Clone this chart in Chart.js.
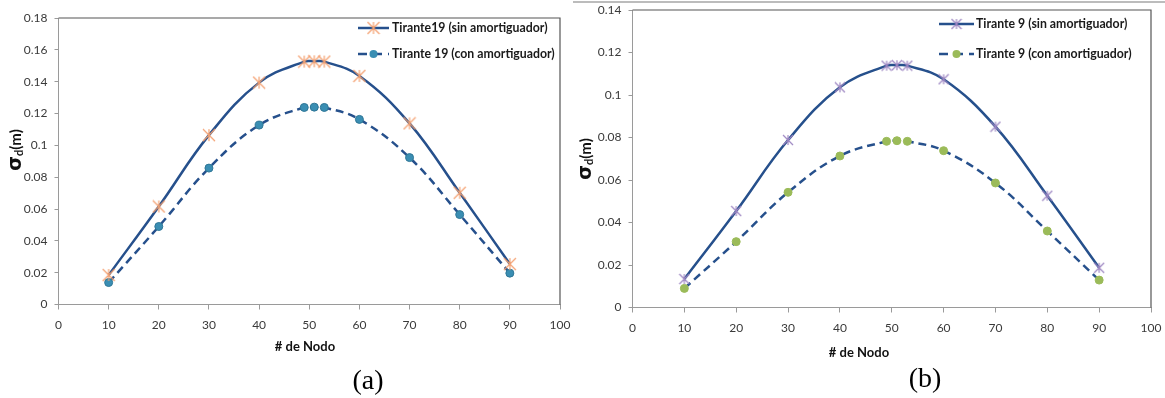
<!DOCTYPE html>
<html>
<head>
<meta charset="utf-8">
<script src="https://cdn.jsdelivr.net/npm/chart.js@4.4.0/dist/chart.umd.min.js"></script>
<style>
  body { margin: 0; background: #fff; width: 1165px; height: 398px; overflow: hidden; position: relative; }
  .box { position: absolute; top: 0; height: 398px; }
  #boxA { left: 0; width: 572px; }
  #boxB { left: 572px; width: 593px; }
  .cap { position: absolute; font-family: "Liberation Serif"; font-size: 28px; color: #000; transform: translate(-50%, -50%); }
</style>
</head>
<body>
<div class="box" id="boxA"><canvas id="chartA"></canvas></div>
<div class="box" id="boxB"><canvas id="chartB"></canvas></div>
<div class="cap" style="left:368px;top:380px">(a)</div>
<div class="cap" style="left:925px;top:378px">(b)</div>
<script>
// node numbers along the cable and displacement per node
var nodos = [10, 20, 30, 40, 49, 51, 53, 60, 70, 80, 90];
var tirante19Sin = [0.0185, 0.0616, 0.1064, 0.1394, 0.1526, 0.1528, 0.1526, 0.1436, 0.1138, 0.0702, 0.0254];
var tirante19Con = [0.0138, 0.049, 0.0857, 0.1127, 0.1238, 0.124, 0.1238, 0.1163, 0.0923, 0.0565, 0.0197];
var tirante9Sin = [0.0134, 0.0454, 0.0788, 0.1036, 0.1138, 0.114, 0.1138, 0.1074, 0.0851, 0.0526, 0.0187];
var tirante9Con = [0.009, 0.031, 0.0542, 0.0713, 0.0782, 0.0785, 0.0782, 0.0738, 0.0586, 0.036, 0.0129];

var xTicks = [0, 10, 20, 30, 40, 50, 60, 70, 80, 90, 100];
var yTicksA = [0, 0.02, 0.04, 0.06, 0.08, 0.1, 0.12, 0.14, 0.16, 0.18];
var yTicksB = [0, 0.02, 0.04, 0.06, 0.08, 0.1, 0.12, 0.14];

var legendA = ['Tirante19 (sin amortiguador)', 'Tirante 19 (con amortiguador)'];
var legendB = ['Tirante 9 (sin amortiguador)', 'Tirante 9 (con amortiguador)'];

var lineColor = '#26508C';
var tickFont = { family: 'Lato', size: 12 };
var tickColor = '#3a3a3a';
var axisColor = '#9a9a9a';

// excel style star marker: an X with a vertical bar
function asterisk(color, size) {
  var c = document.createElement('canvas');
  c.width = size + 2;
  c.height = size + 2;
  var g = c.getContext('2d');
  g.strokeStyle = color;
  g.lineWidth = 1.2;
  var a = 1, b = size + 1, m = (size + 2) / 2;
  g.beginPath();
  g.moveTo(a, a); g.lineTo(b, b);
  g.moveTo(b, a); g.lineTo(a, b);
  g.moveTo(m, a); g.lineTo(m, b);
  g.stroke();
  return c;
}

function pts(xs, ys) {
  return xs.map(function (x, i) { return { x: x, y: ys[i] }; });
}

// titles, legend and plot frame drawn on top of the chart
function decor(cfg) {
  return {
    id: 'decor',
    afterDraw: function (chart) {
      var g = chart.ctx;
      var area = chart.chartArea;
      g.save();

      // top and right edges of the plot area
      g.strokeStyle = '#555';
      g.lineWidth = 1.2;
      g.beginPath();
      g.moveTo(area.left, area.top);
      g.lineTo(area.right, area.top);
      g.lineTo(area.right, area.bottom);
      g.stroke();

      if (cfg.frameTop) {
        g.strokeStyle = '#a6a6a6';
        g.lineWidth = 1.5;
        g.beginPath();
        g.moveTo(1, 2);
        g.lineTo(chart.width, 2);
        g.stroke();
      }

      // x title
      g.fillStyle = '#111';
      g.font = 'bold 13px Lato';
      g.textAlign = 'center';
      g.textBaseline = 'middle';
      g.fillText('# de Nodo', cfg.xTitle[0], cfg.xTitle[1]);

      // y title with subscript
      g.save();
      g.translate(cfg.yTitle[0], cfg.yTitle[1]);
      g.rotate(-Math.PI / 2);
      g.textAlign = 'left';
      g.textBaseline = 'alphabetic';
      g.font = 'bold 19px "DejaVu Sans"';
      var w1 = g.measureText('σ').width;
      g.font = 'bold 11px Lato';
      var w2 = g.measureText('d').width;
      g.font = 'bold 15px Lato';
      var w3 = g.measureText('(m)').width;
      var x = -(w1 + w2 + w3) / 2;
      g.font = 'bold 19px "DejaVu Sans"';
      g.fillText('σ', x, 6);
      g.font = 'bold 11px Lato';
      g.fillText('d', x + w1, 8);
      g.font = 'bold 15px Lato';
      g.fillText('(m)', x + w1 + w2, 6);
      g.restore();

      // legend
      var L = cfg.legend;
      var mid = (L.x0 + L.x1) / 2;
      g.strokeStyle = lineColor;
      g.lineWidth = 2.5;
      g.beginPath();
      g.moveTo(L.x0, L.rows[0]);
      g.lineTo(L.x1, L.rows[0]);
      g.stroke();
      g.drawImage(cfg.star, mid - cfg.star.width / 2, L.rows[0] - cfg.star.height / 2);

      g.setLineDash([9, 6]);
      g.beginPath();
      g.moveTo(L.x0, L.rows[1]);
      g.lineTo(L.x1, L.rows[1]);
      g.stroke();
      g.setLineDash([]);
      g.fillStyle = cfg.dot;
      g.beginPath();
      g.arc(mid, L.rows[1], 4, 0, Math.PI * 2);
      g.fill();

      g.fillStyle = '#1a1a1a';
      g.font = 'bold 12.3px Lato';
      g.textAlign = 'left';
      g.textBaseline = 'middle';
      g.fillText(L.labels[0], L.tx, L.rows[0]);
      g.fillText(L.labels[1], L.tx, L.rows[1]);
      g.restore();
    }
  };
}

function makeChart(id, cfg) {
  var ctx = document.getElementById(id).getContext('2d');
  return new Chart(ctx, {
    type: 'line',
    data: {
      datasets: [{
        label: cfg.legend.labels[0],
        data: pts(nodos, cfg.sin),
        borderColor: lineColor,
        borderWidth: 2.5,
        tension: 0.4,
        pointStyle: cfg.star,
        fill: false
      }, {
        label: cfg.legend.labels[1],
        data: pts(nodos, cfg.con),
        borderColor: lineColor,
        borderWidth: 2.5,
        borderDash: [8, 5],
        tension: 0.4,
        pointStyle: 'circle',
        pointRadius: 4,
        pointBackgroundColor: cfg.dot,
        pointBorderColor: cfg.dotEdge,
        pointBorderWidth: 1,
        fill: false
      }]
    },
    options: {
      responsive: true,
      maintainAspectRatio: false,
      animation: false,
      layout: { padding: cfg.padding },
      plugins: { legend: { display: false }, tooltip: { enabled: false } },
      scales: {
        x: {
          type: 'linear',
          min: 0,
          max: 100,
          afterBuildTicks: function (s) { s.ticks = xTicks.map(function (v) { return { value: v }; }); },
          afterFit: function (s) {
            s.height = cfg.xHeight;
            // let the end labels hang into the padding instead of shrinking the plot
            s.paddingLeft = 0;
            s.paddingRight = 0;
          },
          grid: { drawOnChartArea: false, drawTicks: true, tickLength: 5, color: axisColor },
          border: { color: axisColor, width: 1 },
          ticks: { font: tickFont, color: tickColor, padding: 8, maxRotation: 0, autoSkip: false }
        },
        y: {
          min: 0,
          max: cfg.yMax,
          afterBuildTicks: function (s) { s.ticks = cfg.yTicks.map(function (v) { return { value: v }; }); },
          afterFit: function (s) {
            s.width = cfg.yWidth;
            s.paddingTop = 0;
            s.paddingBottom = 0;
          },
          grid: { drawOnChartArea: false, drawTicks: true, tickLength: 4, color: axisColor },
          border: { color: axisColor, width: 1 },
          ticks: {
            font: tickFont,
            color: tickColor,
            padding: 7,
            autoSkip: false,
            callback: function (v) { return String(Math.round(v * 100) / 100); }
          }
        }
      }
    },
    plugins: [decor(cfg)]
  });
}

makeChart('chartA', {
  sin: tirante19Sin,
  con: tirante19Con,
  yTicks: yTicksA,
  yMax: 0.18,
  star: asterisk('#F4A070', 12),
  dot: '#3A8EB3',
  dotEdge: '#2F7696',
  padding: { top: 18, right: 12, left: 0, bottom: 0 },
  yWidth: 58.5,
  xHeight: 93.5,
  xTitle: [305, 347],
  yTitle: [15, 150],
  frameTop: false,
  legend: { x0: 358, x1: 389, tx: 392, rows: [28, 54], labels: legendA }
});

makeChart('chartB', {
  sin: tirante9Sin,
  con: tirante9Con,
  yTicks: yTicksB,
  yMax: 0.14,
  star: asterisk('#9D86C2', 10),
  dot: '#9BBB59',
  dotEdge: '#9BBB59',
  padding: { top: 10, right: 14, left: 0, bottom: 0 },
  yWidth: 60.5,
  xHeight: 90.5,
  xTitle: [287, 353],
  yTitle: [13, 159],
  frameTop: true,
  legend: { x0: 367, x1: 402, tx: 404, rows: [24, 54], labels: legendB }
});
</script>
</body>
</html>
